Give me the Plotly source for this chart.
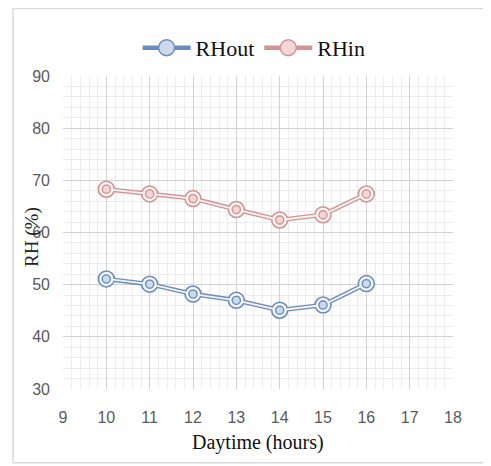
import plotly.graph_objects as go

# 数据
hours = [10, 11, 12, 13, 14, 15, 16]
rh_out = [51.1, 50.1, 48.2, 47.0, 45.1, 46.1, 50.2]
rh_in = [68.3, 67.4, 66.5, 64.4, 62.4, 63.4, 67.4]

series = [
    ("RHout", rh_out, "#6a8cbf", "#ccdaee"),
    ("RHin", rh_in, "#d39392", "#f4d6d5"),
]

fig = go.Figure()

for name, vals, ring, fill in series:
    # 外圈 + 双线效果
    fig.add_trace(go.Scatter(
        x=hours, y=vals, name=name, mode="lines+markers",
        line=dict(color=ring, width=4.5),
        marker=dict(symbol="circle", size=16, color=fill,
                    line=dict(color=ring, width=1.5)),
        legendgroup=name,
    ))
    fig.add_trace(go.Scatter(
        x=hours, y=vals, mode="lines+markers", showlegend=False,
        line=dict(color="#f4f4f4", width=1.8),
        marker=dict(symbol="circle", size=12, color=fill,
                    line=dict(color="#ffffff", width=1.5)),
        legendgroup=name, hoverinfo="skip",
    ))
    fig.add_trace(go.Scatter(
        x=hours, y=vals, mode="markers", showlegend=False,
        marker=dict(symbol="circle", size=8, color=fill,
                    line=dict(color=ring, width=1.3)),
        legendgroup=name, hoverinfo="skip",
    ))

tick_font = dict(family="Liberation Sans", size=16, color="#5a5a5a")

fig.update_xaxes(
    range=[9, 18], dtick=1, tick0=9,
    showgrid=True, gridcolor="#d2d2d2", gridwidth=1,
    minor=dict(dtick=0.2, showgrid=True, gridcolor="#ececec", gridwidth=1),
    zeroline=False, showline=False, ticks="",
    tickfont=tick_font, ticklabelstandoff=17,
)
fig.update_yaxes(
    range=[30, 90], dtick=10,
    showgrid=True, gridcolor="#d2d2d2", gridwidth=1,
    minor=dict(dtick=2, showgrid=True, gridcolor="#ececec", gridwidth=1),
    zeroline=False, showline=False, ticks="",
    tickfont=tick_font, ticklabelstandoff=12,
)

# 页面 body 自带 8px 边距，这里整体向左上收
fig.update_layout(
    width=483, height=458,
    margin=dict(l=55, r=38, t=68, b=77, autoexpand=False),
    paper_bgcolor="white", plot_bgcolor="white",
    showlegend=True,
    legend=dict(orientation="h", x=0.49, xanchor="center",
                yref="container", y=0.913, yanchor="middle",
                font=dict(family="Liberation Serif", size=22, color="#111111"),
                itemwidth=48, tracegroupgap=0),
    annotations=[
        dict(text="RH (%)", textangle=-90, showarrow=False,
             xref="paper", yref="paper", x=-0.0795, y=0.486,
             xanchor="center", yanchor="middle",
             font=dict(family="Liberation Serif", size=19, color="#222222")),
        dict(text="Daytime (hours)", showarrow=False,
             xref="paper", yref="paper", x=0.5, y=-0.172,
             xanchor="center", yanchor="middle",
             font=dict(family="Liberation Serif", size=20, color="#111111")),
    ],
    shapes=[dict(
        type="rect", xref="paper", yref="paper",
        x0=-0.128, x1=1.3, y0=-0.236, y1=1.2157,
        line=dict(color="#d9d9d9", width=1.5), layer="below",
    )],
)

fig.write_html("out.html")
